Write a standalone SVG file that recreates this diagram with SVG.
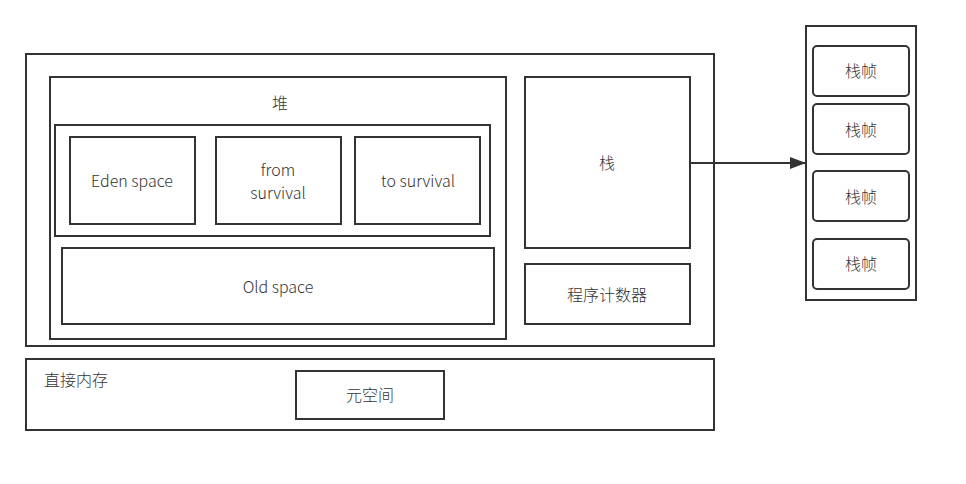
<svg xmlns="http://www.w3.org/2000/svg" width="966" height="484" viewBox="0 0 966 484">
<defs>
<style>
rect{fill:#fff;stroke:#333;stroke-width:2}
text{font-family:"Noto Sans CJK SC","Noto Sans",sans-serif;font-size:16px;font-weight:300;fill:#333;text-anchor:middle;dominant-baseline:central}
.l{text-anchor:start}
</style>
<marker id="ah" viewBox="0 0 16 12" refX="16" refY="6" markerWidth="16" markerHeight="12" markerUnits="userSpaceOnUse" orient="auto"><path d="M0,0 L16,6 L0,12 Z" fill="#333"/></marker>
</defs>
<rect x="0" y="0" width="966" height="484" style="fill:#fff;stroke:none"/>
<g id="jvm"><rect x="26" y="54" width="688" height="292"/></g>
<g id="heap"><rect x="50" y="77" width="456" height="262"/><text x="280" y="102">堆</text></g>
<g id="young"><rect x="55" y="125" width="435" height="111"/></g>
<g id="eden"><rect x="70" y="137" width="125" height="87"/><text x="132" y="180">Eden space</text></g>
<g id="from"><rect x="216" y="137" width="125" height="87"/><text x="278" y="168.5">from</text><text x="278" y="191.5">survival</text></g>
<g id="to"><rect x="355" y="137" width="125" height="87"/><text x="418" y="180">to survival</text></g>
<g id="old"><rect x="62" y="248" width="432" height="76"/><text x="278" y="286">Old space</text></g>
<g id="stack"><rect x="525" y="77" width="165" height="171"/><text x="607" y="162">栈</text></g>
<g id="pc"><rect x="525" y="264" width="165" height="60"/><text x="607" y="294">程序计数器</text></g>
<g id="direct"><rect x="26" y="359" width="688" height="71"/><text class="l" x="44" y="379">直接内存</text></g>
<g id="meta"><rect x="296" y="371" width="148" height="48"/><text x="370" y="394">元空间</text></g>
<g id="frames"><rect x="806" y="26" width="110" height="274"/></g>
<g id="f1"><rect x="813" y="46" width="96" height="50" rx="4"/><text x="861" y="70">栈帧</text></g>
<g id="f2"><rect x="813" y="104" width="96" height="50" rx="4"/><text x="861" y="129">栈帧</text></g>
<g id="f3"><rect x="813" y="171" width="96" height="50" rx="4"/><text x="861" y="196">栈帧</text></g>
<g id="f4"><rect x="813" y="239" width="96" height="50" rx="4"/><text x="861" y="263">栈帧</text></g>
<g id="connectors"><line x1="690" y1="163" x2="806" y2="163" stroke="#333" stroke-width="2" marker-end="url(#ah)"/></g>
</svg>
